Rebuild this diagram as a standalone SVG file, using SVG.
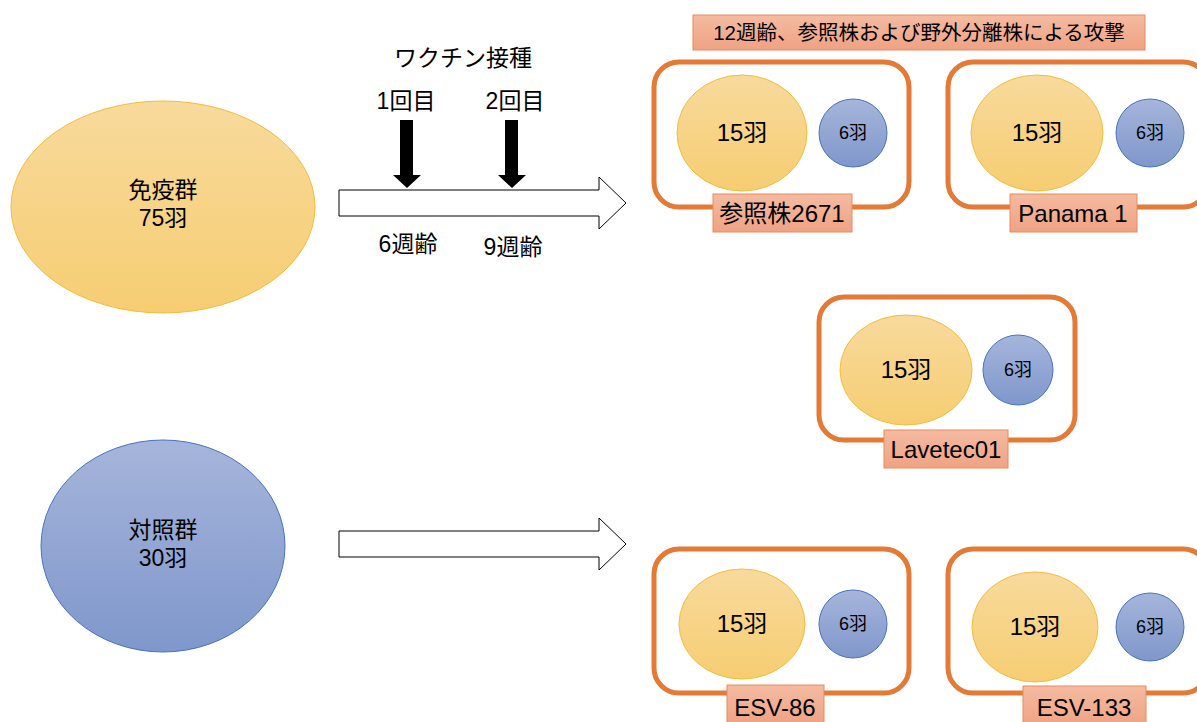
<svg xmlns="http://www.w3.org/2000/svg" width="1197" height="722" viewBox="0 0 1197 722">
<defs>
<linearGradient id="gy" x1="0" y1="0" x2="0" y2="1"><stop offset="0" stop-color="#F8DA9C"/><stop offset="1" stop-color="#F6CD72"/></linearGradient>
<linearGradient id="gb" x1="0" y1="0" x2="0" y2="1"><stop offset="0" stop-color="#A6B5DB"/><stop offset="1" stop-color="#7F97CB"/></linearGradient>
<linearGradient id="go" x1="0" y1="0" x2="0" y2="1"><stop offset="0" stop-color="#F4BBA1"/><stop offset="1" stop-color="#EFA283"/></linearGradient>
</defs>
<style>
text{font-family:"Liberation Sans","Noto Sans CJK JP",sans-serif;fill:#000;text-anchor:middle}
.y{fill:url(#gy);stroke:#F2BE3A;stroke-width:1}
.b{fill:url(#gb);stroke:#4A72C0;stroke-width:1}
.frame{fill:none;stroke:#E47A35;stroke-width:5}
.lab{fill:url(#go);stroke:#EA8A5C;stroke-width:1}
.arr{fill:#fff;stroke:#000;stroke-width:1}
.t23{font-size:23px}
.t24{font-size:24px}
.t17{font-size:18px}
</style>
<g id="immune"><ellipse class="y" cx="163" cy="207" rx="152" ry="106"/><text class="t23" x="163" y="198">免疫群</text><text class="t23" x="163" y="226">75羽</text></g>
<g id="control"><ellipse class="b" cx="163" cy="546" rx="122" ry="106"/><text class="t23" x="163" y="538">対照群</text><text class="t23" x="163" y="566">30羽</text></g>
<g id="connectors">
<path class="arr" d="M339,190 H599 V177 L626,203 L599,229 V216 H339 Z"/>
<path class="arr" d="M339,531 H599 V518 L626,544 L599,570 V557 H339 Z"/>
<path d="M400,120 H413 V175 H421 L407,188 L393,175 H400 Z" fill="#000"/>
<path d="M505,120 H518 V175 H526 L512,188 L498,175 H505 Z" fill="#000"/>
</g>
<g id="vaccine-labels">
<text class="t23" x="463" y="66">ワクチン接種</text>
<text class="t23" x="406" y="109">1回目</text>
<text class="t23" x="515" y="109">2回目</text>
<text class="t23" x="408" y="252">6週齢</text>
<text class="t23" x="513" y="255">9週齢</text>
</g>
<g id="title"><rect class="lab" x="693" y="15" width="452" height="35"/><text x="919" y="40" style="font-size:20.5px">12週齢、参照株および野外分離株による攻撃</text></g>
<g id="box-2671">
<rect class="frame" x="654" y="62" width="255" height="145" rx="25"/>
<ellipse class="y" cx="742" cy="133" rx="65" ry="58"/><text class="t24" x="742" y="141">15羽</text>
<circle class="b" cx="853" cy="133" r="34"/><text class="t17" x="853" y="139">6羽</text>
<rect class="lab" x="713" y="194" width="139" height="38"/><text class="t24" x="782" y="222">参照株2671</text>
</g>
<g id="box-panama">
<rect class="frame" x="948" y="62" width="260" height="145" rx="25"/>
<ellipse class="y" cx="1037" cy="133" rx="66" ry="58"/><text class="t24" x="1037" y="141">15羽</text>
<circle class="b" cx="1150" cy="133" r="34"/><text class="t17" x="1150" y="139">6羽</text>
<rect class="lab" x="1010" y="194" width="127" height="38"/><text class="t24" x="1073" y="222">Panama 1</text>
</g>
<g id="box-lavetec">
<rect class="frame" x="819" y="297" width="256" height="143" rx="25"/>
<ellipse class="y" cx="906" cy="370" rx="66" ry="55"/><text class="t24" x="906" y="378">15羽</text>
<circle class="b" cx="1018" cy="370" r="35"/><text class="t17" x="1018" y="376">6羽</text>
<rect class="lab" x="884" y="430" width="124" height="38"/><text class="t24" x="946" y="458">Lavetec01</text>
</g>
<g id="box-esv86">
<rect class="frame" x="654" y="549" width="255" height="144" rx="25"/>
<ellipse class="y" cx="742" cy="624" rx="63" ry="55"/><text class="t24" x="742" y="632">15羽</text>
<circle class="b" cx="853" cy="624" r="34"/><text class="t17" x="853" y="630">6羽</text>
<rect class="lab" x="727" y="685" width="97" height="40"/><text class="t24" x="775" y="716">ESV-86</text>
</g>
<g id="box-esv133">
<rect class="frame" x="948" y="549" width="260" height="144" rx="25"/>
<ellipse class="y" cx="1035" cy="627" rx="63" ry="55"/><text class="t24" x="1035" y="635">15羽</text>
<circle class="b" cx="1150" cy="627" r="34"/><text class="t17" x="1150" y="633">6羽</text>
<rect class="lab" x="1023" y="686" width="123" height="40"/><text class="t24" x="1084" y="716">ESV-133</text>
</g>
</svg>
